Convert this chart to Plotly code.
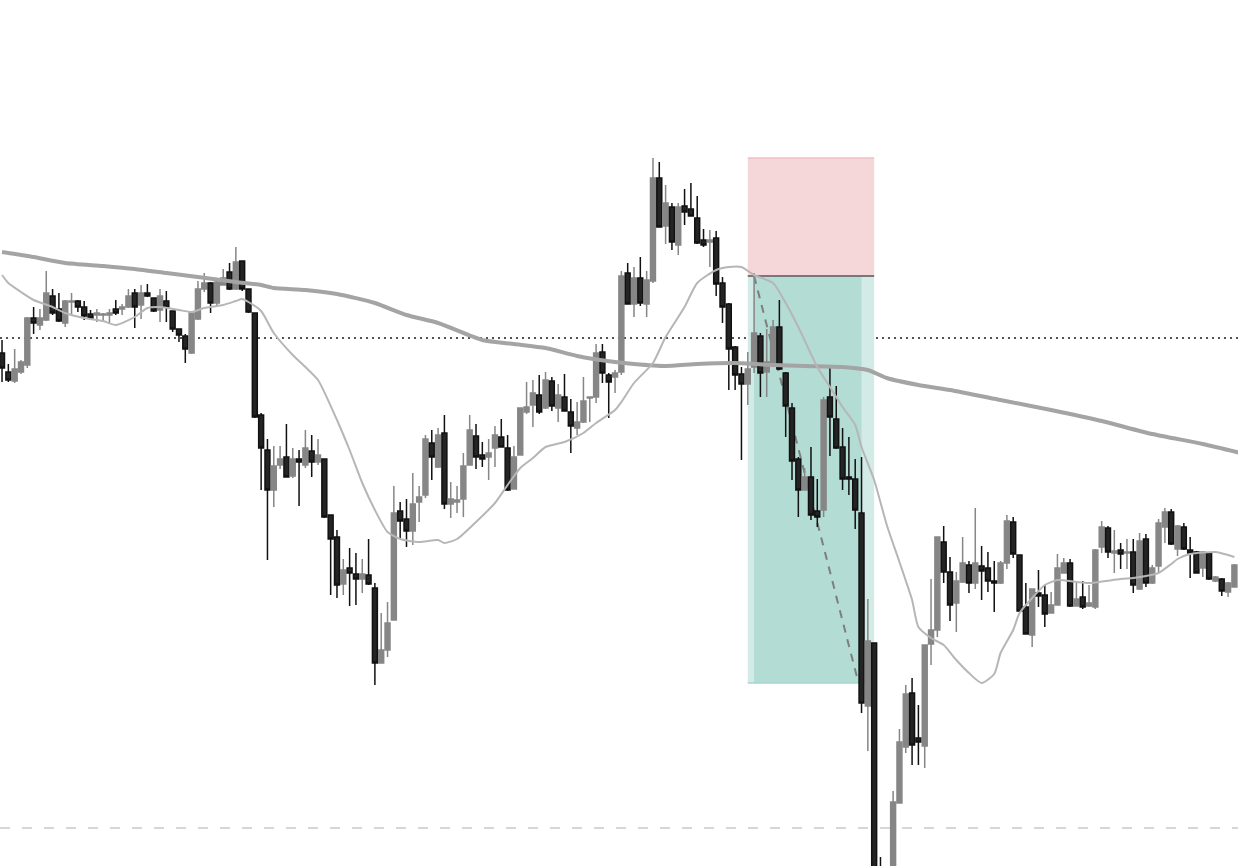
import plotly.graph_objects as go

# candle data, one bar per entry
open_ = [
    647, 628, 619, 628, 635, 682, 675, 680, 704, 691,
    677, 698, 699, 693, 686, 685, 685, 685, 691, 691,
    693, 707, 695, 707, 702, 690, 699, 689, 671, 664,
    647, 681, 711, 717, 697, 715, 728, 711, 739, 711,
    687, 585, 550, 510, 535, 543, 524, 541, 535, 549,
    538, 541, 485, 463, 416, 432, 426, 421, 425, 412,
    337, 350, 380, 489, 481, 469, 498, 505, 557, 533,
    567, 496, 498, 501, 535, 564, 545, 543, 552, 563,
    552, 511, 545, 588, 595, 605, 592, 619, 592, 603,
    588, 572, 578, 602, 603, 648, 625, 623, 628, 727,
    696, 722, 696, 719, 822, 774, 793, 755, 794, 791,
    782, 760, 758, 762, 717, 696, 653, 626, 616, 633,
    664, 628, 637, 673, 627, 592, 541, 510, 523, 489,
    490, 603, 581, 553, 523, 521, 487, 294, 357, 125,
    70, 120, 197, 253, 307, 262, 254, 356, 370, 458,
    428, 397, 418, 435, 417, 434, 432, 419, 417, 437,
    478, 445, 393, 365, 407, 405, 387, 395, 427, 437,
    394, 403, 394, 393, 453, 472, 447, 450, 447, 448,
    411, 461, 417, 434, 473, 488, 451, 473, 450, 448,
    432, 447, 419, 421, 408, 413,
]
high = [
    660, 636, 651, 640, 683, 693, 691, 729, 711, 707,
    700, 707, 700, 699, 690, 691, 687, 691, 700, 696,
    711, 711, 715, 716, 702, 711, 709, 689, 671, 666,
    687, 719, 727, 718, 722, 731, 737, 753, 739, 711,
    687, 587, 561, 554, 554, 576, 552, 550, 570, 565,
    561, 541, 485, 470, 441, 452, 447, 441, 461, 417,
    387, 398, 514, 498, 501, 527, 514, 565, 570, 572,
    585, 518, 514, 547, 585, 576, 558, 561, 574, 581,
    565, 554, 592, 618, 620, 625, 628, 623, 616, 626,
    601, 598, 623, 603, 656, 656, 627, 630, 729, 737,
    733, 743, 729, 842, 838, 815, 797, 797, 811, 817,
    804, 771, 770, 769, 723, 697, 654, 633, 648, 727,
    667, 671, 680, 700, 628, 597, 543, 532, 553, 521,
    603, 632, 614, 572, 563, 541, 543, 401, 357, 143,
    120, 209, 271, 315, 322, 295, 355, 421, 463, 474,
    443, 428, 463, 439, 492, 454, 448, 439, 439, 485,
    483, 445, 417, 411, 430, 415, 408, 446, 442, 441,
    417, 419, 415, 451, 479, 474, 470, 457, 461, 461,
    467, 466, 435, 481, 492, 491, 475, 477, 463, 449,
    449, 447, 424, 422, 418, 436,
]
low = [
    618, 618, 617, 626, 632, 666, 670, 679, 685, 678,
    673, 685, 688, 680, 680, 678, 678, 676, 685, 685,
    692, 672, 681, 703, 688, 678, 678, 668, 658, 637,
    646, 680, 708, 687, 693, 715, 710, 710, 709, 687,
    582, 510, 440, 493, 531, 523, 522, 494, 532, 523,
    535, 482, 405, 402, 405, 394, 395, 407, 415, 315,
    337, 343, 380, 462, 453, 455, 478, 502, 520, 532,
    491, 482, 487, 483, 535, 531, 533, 520, 533, 553,
    509, 511, 545, 586, 573, 586, 591, 589, 578, 589,
    547, 565, 577, 578, 597, 617, 582, 607, 625, 696,
    683, 694, 683, 717, 773, 756, 750, 745, 775, 784,
    756, 753, 733, 704, 677, 610, 610, 540, 595, 627,
    603, 603, 637, 630, 563, 520, 483, 510, 480, 473,
    483, 544, 551, 510, 505, 471, 287, 249, 90, 70,
    60, 115, 197, 247, 235, 235, 232, 335, 363, 417,
    379, 368, 417, 407, 411, 400, 408, 388, 416, 431,
    442, 388, 366, 353, 393, 373, 387, 395, 427, 393,
    394, 391, 393, 391, 447, 442, 427, 431, 431, 407,
    410, 413, 416, 428, 457, 455, 444, 450, 422, 427,
    423, 420, 418, 404, 403, 413,
]
close = [
    632, 620, 631, 638, 682, 677, 682, 707, 687, 679,
    699, 699, 693, 684, 682, 687, 686, 687, 687, 693,
    704, 693, 707, 704, 689, 704, 693, 671, 665, 651,
    687, 711, 717, 697, 718, 722, 711, 738, 711, 688,
    583, 552, 510, 534, 541, 523, 541, 538, 552, 538,
    545, 483, 461, 415, 430, 427, 421, 426, 416, 337,
    350, 377, 487, 479, 469, 496, 503, 561, 543, 565,
    496, 501, 500, 534, 570, 543, 541, 547, 565, 553,
    510, 543, 592, 593, 607, 588, 620, 594, 605, 589,
    574, 578, 599, 603, 647, 627, 618, 627, 724, 696,
    722, 697, 720, 822, 773, 797, 758, 793, 788, 784,
    757, 755, 760, 716, 693, 651, 625, 616, 631, 667,
    627, 638, 673, 631, 594, 539, 510, 523, 485, 483,
    600, 583, 552, 521, 521, 490, 297, 359, 100, 80,
    110, 198, 258, 306, 255, 258, 355, 370, 463, 428,
    395, 419, 437, 417, 437, 429, 419, 417, 437, 479,
    446, 389, 366, 411, 404, 386, 395, 432, 437, 394,
    401, 393, 397, 450, 473, 448, 449, 446, 448, 415,
    459, 417, 432, 477, 488, 456, 474, 451, 447, 427,
    448, 421, 423, 409, 417, 435,
]
bars = list(range(len(close)))

# moving averages, read at selected bars
fast_ma_bar = [0, 1, 3, 5, 8, 10, 13, 16, 18, 21, 23, 25, 28, 30, 32, 35, 37, 38, 39, 41,
               43, 46, 48, 50, 53, 55, 57, 59, 61, 63, 66, 69, 70, 72, 75, 78, 80, 82, 84, 86,
               89, 92, 94, 97, 98, 100, 103, 105, 108, 110, 113, 115, 117, 119, 122, 124, 126, 129, 131, 133,
               135, 136, 138, 140, 142, 144, 145, 147, 149, 151, 153, 155, 157, 158, 160, 161, 163, 165, 167, 170,
               172, 177, 179, 181, 183, 185, 186, 188, 192, 194, 195]
fast_ma = [725, 717, 708, 700, 693, 687, 682, 679, 675, 683, 692, 693, 690, 688, 692, 695, 699, 701, 698, 689,
           667, 645, 633, 620, 580, 550, 517, 490, 468, 461, 458, 460, 457, 461, 478, 497, 515, 532, 542, 553,
           558, 567, 577, 590, 598, 617, 637, 663, 693, 717, 730, 733, 733, 725, 717, 697, 673, 633, 613, 593,
           575, 553, 520, 475, 438, 400, 373, 362, 355, 340, 327, 317, 326, 347, 370, 387, 402, 415, 420, 418,
           417, 421, 422, 424, 427, 436, 441, 446, 448, 445, 443]

slow_ma_bar = [0, 5, 10, 16, 21, 26, 31, 37, 41, 43, 48, 53, 59, 64, 69, 76, 81, 86, 91, 97,
               100, 105, 110, 116, 122, 127, 133, 137, 140, 145, 150, 158, 166, 174, 182, 190, 196]
slow_ma = [748, 743, 737, 734, 731, 727, 723, 718, 715, 712, 710, 706, 697, 685, 677, 660, 656, 652, 644, 638,
           636, 634, 636, 637, 635, 634, 633, 630, 622, 615, 610, 600, 590, 579, 566, 556, 547]

# short position tool and levels
entry_price = 724
stop_price = 842
target_price = 317
exit_price = 320
position_start, position_end = 118, 138
trade_open_bar, trade_close_bar = 119, 136
level_price = 662
lower_level_price = 172

fig = go.Figure()

fig.add_trace(go.Scatter(x=slow_ma_bar, y=slow_ma, mode="lines",
                         line=dict(color="#a4a4a4", width=4, shape="spline", smoothing=0.6),
                         hoverinfo="skip"))
fig.add_trace(go.Scatter(x=fast_ma_bar, y=fast_ma, mode="lines",
                         line=dict(color="#b6b6b6", width=2, shape="spline", smoothing=0.6),
                         hoverinfo="skip"))

fig.add_trace(go.Candlestick(
    x=bars, open=open_, high=high, low=low, close=close,
    increasing=dict(fillcolor="#868686", line=dict(color="#868686", width=1.5)),
    decreasing=dict(fillcolor="#242424", line=dict(color="#111111", width=1.5)),
    whiskerwidth=0,
))

# position tool boxes
fig.add_shape(type="rect", x0=position_start, x1=position_end, y0=target_price, y1=entry_price,
              fillcolor="#d3ebe6", line_width=0, layer="below")
fig.add_shape(type="rect", x0=trade_open_bar, x1=trade_close_bar, y0=target_price, y1=entry_price,
              fillcolor="#b3dcd4", line_width=0, layer="below")
fig.add_shape(type="line", x0=position_start, x1=position_end, y0=target_price, y1=target_price,
              line=dict(color="#a6d7cd", width=1.5), layer="below")
fig.add_shape(type="rect", x0=position_start, x1=position_end, y0=entry_price, y1=stop_price,
              fillcolor="#f5d6d9", line_width=0, layer="below")
fig.add_shape(type="line", x0=position_start, x1=position_end, y0=stop_price, y1=stop_price,
              line=dict(color="#efbfc4", width=1.5), layer="below")
fig.add_shape(type="line", x0=position_start, x1=position_end, y0=entry_price, y1=entry_price,
              line=dict(color="#787878", width=2), layer="below")
fig.add_shape(type="line", x0=trade_open_bar, x1=trade_close_bar - 0.6, y0=entry_price, y1=exit_price,
              line=dict(color="#7e7e7e", width=2, dash="8px,7px"), layer="below")

# horizontal levels
fig.add_shape(type="line", xref="paper", x0=0, x1=1, y0=level_price, y1=level_price,
              line=dict(color="#1a1a1a", width=1.6, dash="2px,4px"), layer="below")
fig.add_shape(type="line", xref="paper", x0=0, x1=1, y0=lower_level_price, y1=lower_level_price,
              line=dict(color="#d6d6d6", width=2, dash="10px,12px"), layer="below")

fig.update_layout(
    width=1238, height=866,
    margin=dict(l=0, r=0, t=0, b=0),
    paper_bgcolor="white", plot_bgcolor="white",
    showlegend=False,
    boxgap=0.22, boxgroupgap=0,
    xaxis=dict(range=[-0.32, 195.57], visible=False, showgrid=False,
               rangeslider=dict(visible=False)),
    yaxis=dict(range=[134, 1000], visible=False, showgrid=False),
)

# page margin off so the chart sits at the window corner
fig.write_html("out.html", config={"displayModeBar": False},
               post_script="document.body.style.margin='0';document.body.style.overflow='hidden';")
